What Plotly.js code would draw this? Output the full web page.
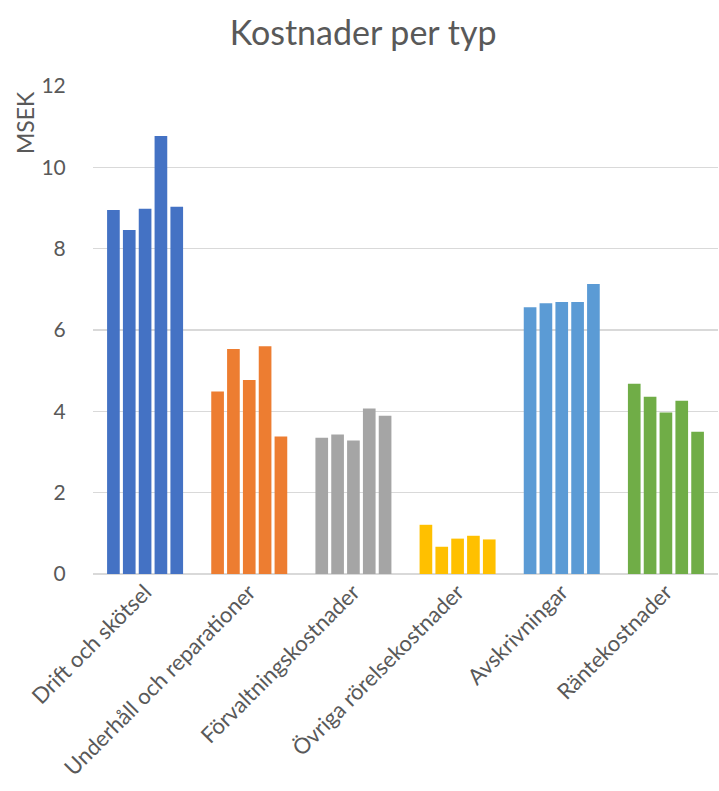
<!DOCTYPE html>
<html>
<head>
<meta charset="utf-8">
<script src="https://cdn.plot.ly/plotly-3.0.1.min.js"></script>
<style>
  html, body { margin: 0; padding: 0; background: #ffffff; }
  #chart { width: 719px; height: 791px; }
</style>
</head>
<body>
<div id="chart"></div>
<script>
// Cost categories (x axis)
const categories = [
  'Drift och skötsel',
  'Underhåll och reparationer',
  'Förvaltningskostnader',
  'Övriga rörelsekostnader',
  'Avskrivningar',
  'Räntekostnader'
];

// Five periods per category, MSEK
const driftOchSkotsel      = [8.95, 8.46, 8.98, 10.77, 9.03];
const underhallReparation  = [4.49, 5.53, 4.77, 5.60, 3.38];
const forvaltning          = [3.35, 3.43, 3.28, 4.07, 3.89];
const ovrigaRorelse        = [1.21, 0.67, 0.87, 0.94, 0.85];
const avskrivningar        = [6.56, 6.66, 6.69, 6.69, 7.13];
const rantekostnader       = [4.68, 4.36, 3.97, 4.26, 3.50];

// One colour per category
const categoryColors = ['#4472C4', '#ED7D31', '#A5A5A5', '#FFC000', '#5B9BD5', '#70AD47'];

const yTicks = [0, 2, 4, 6, 8, 10, 12];

const byCategory = [driftOchSkotsel, underhallReparation, forvaltning,
                    ovrigaRorelse, avskrivningar, rantekostnader];

// One grouped trace per period, coloured by category
const traces = [0, 1, 2, 3, 4].map(p => ({
  type: 'bar',
  name: 'Period ' + (p + 1),
  x: categories,
  y: byCategory.map(vals => vals[p]),
  marker: { color: categoryColors },
  hoverinfo: 'x+y'
}));

const textColor = '#595959';
const fontFamily = 'Lato, "Open Sans", sans-serif';

const layout = {
  width: 719,
  height: 791,
  paper_bgcolor: '#ffffff',
  plot_bgcolor: '#ffffff',
  showlegend: false,
  barmode: 'group',
  bargap: 0.24,
  bargroupgap: 0.2,
  margin: { l: 93, r: 1, t: 86, b: 217 },
  font: { family: fontFamily, color: textColor, size: 20 },
  title: {
    text: 'Kostnader per typ',
    font: { family: fontFamily, size: 34, color: textColor },
    xref: 'container', x: 0.505, xanchor: 'center',
    yref: 'container', y: 1 - 33 / 791, yanchor: 'middle'
  },
  xaxis: {
    type: 'category',
    tickangle: -45,
    tickfont: { family: fontFamily, size: 22, color: textColor },
    showgrid: false,
    showline: false,
    ticks: '',
    automargin: false
  },
  yaxis: {
    range: [0, 12],
    tickvals: yTicks,
    ticktext: yTicks.map(String),
    tickfont: { family: fontFamily, size: 21, color: textColor },
    showgrid: true,
    gridcolor: '#D9D9D9',
    gridwidth: 1.5,
    zeroline: true,
    zerolinecolor: '#D9D9D9',
    zerolinewidth: 1.5,
    showline: false,
    ticks: 'outside',
    ticklen: 22,
    tickcolor: 'rgba(0,0,0,0)',
    automargin: false
  },
  // Axis unit label, placed up by the top of the value axis
  annotations: [{
    text: 'MSEK',
    xref: 'paper', yref: 'paper',
    x: 0, y: 1,
    xshift: -68, yshift: -37,
    xanchor: 'center', yanchor: 'middle',
    textangle: -90,
    showarrow: false,
    font: { family: fontFamily, size: 23, color: textColor }
  }]
};

Plotly.newPlot('chart', traces, layout, { displayModeBar: false, staticPlot: true });
</script>
</body>
</html>
